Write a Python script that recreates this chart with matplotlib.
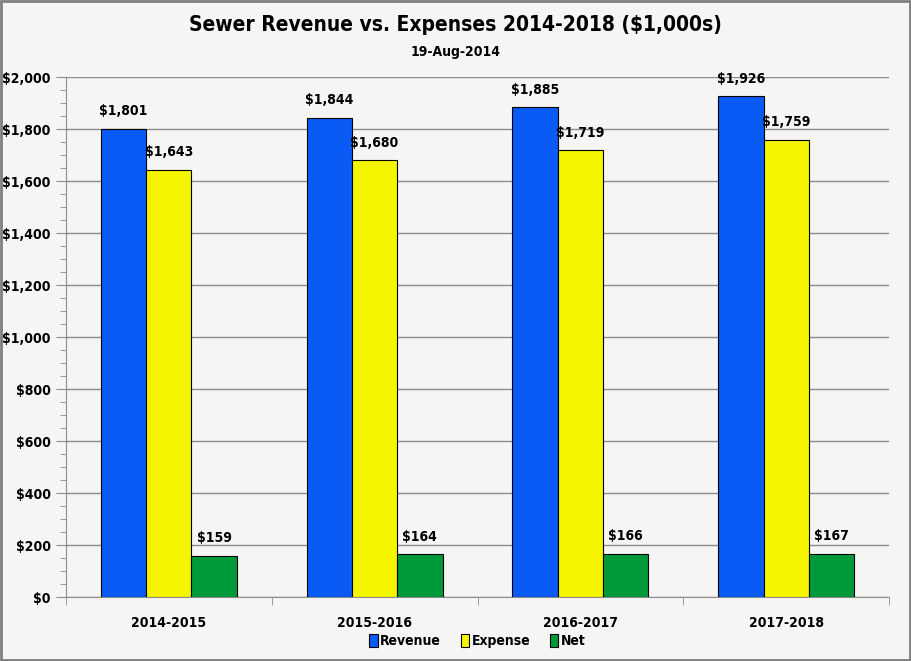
import matplotlib.pyplot as plt
import numpy as np
from matplotlib.ticker import MultipleLocator, FuncFormatter
from matplotlib.patches import Rectangle

# === DATA ===
periods = ['2014-2015', '2015-2016', '2016-2017', '2017-2018']
revenue = [1801, 1844, 1885, 1926]
expense = [1643, 1680, 1719, 1759]
net = [159, 164, 166, 167]

plt.rcParams['font.family'] = ['DejaVu Sans']
plt.rcParams['font.stretch'] = 'condensed'
plt.rcParams['font.weight'] = 'bold'

fig = plt.figure(figsize=(9.11, 6.61), dpi=100)
fig.patch.set_facecolor('#f6f5f4')
ax = fig.add_axes([0.0724, 0.0968, 0.9035, 0.7867])
ax.set_facecolor('#f6f5f4')

x = np.arange(len(periods))
w = 0.22
series = [(revenue, '#0a5af5', 'Revenue'),
          (expense, '#f5f500', 'Expense'),
          (net, '#009a3a', 'Net')]
for i, (vals, col, lab) in enumerate(series):
    pos = x + (i - 1) * w
    ax.bar(pos, vals, w, color=col, edgecolor='black', linewidth=0.8, label=lab, zorder=3)
    for p, v in zip(pos, vals):
        ax.text(p, v + 40, f'${v:,}', ha='center', va='bottom', fontsize=10, fontweight='bold')

ax.set_xlim(-0.5, len(periods) - 0.5)
ax.set_ylim(0, 2000)
ax.yaxis.set_major_locator(MultipleLocator(200))
ax.yaxis.set_minor_locator(MultipleLocator(50))
ax.yaxis.set_major_formatter(FuncFormatter(lambda v, p: f'${int(v):,}'))
ax.grid(axis='y', which='major', color='#8c8c8c', linewidth=1, zorder=0)

ax.set_xticks(x)
ax.set_xticklabels(periods)
ax.set_xticks(np.arange(len(periods) + 1) - 0.5, minor=True)
ax.tick_params(axis='x', which='major', length=0, pad=14, labelsize=10)
ax.tick_params(axis='x', which='minor', length=6, color='#8c8c8c', direction='out')
ax.tick_params(axis='y', which='major', length=7, color='#8c8c8c', labelsize=10, pad=4)
ax.tick_params(axis='y', which='minor', length=4, color='#8c8c8c')

for s in ['top', 'right']:
    ax.spines[s].set_visible(False)
for s in ['left', 'bottom']:
    ax.spines[s].set_color('#8c8c8c')

fig.text(0.5, 0.962, 'Sewer Revenue vs. Expenses 2014-2018 ($1,000s)', ha='center', va='center',
         fontsize=15, fontweight='bold')
fig.text(0.5, 0.921, '19-Aug-2014', ha='center', va='center', fontsize=10, fontweight='bold')

ax.legend(loc='center', bbox_to_anchor=(0.5, -0.085), ncol=3, frameon=False, fontsize=10,
          handlelength=0.6, handleheight=1.0, handletextpad=0.2, columnspacing=1.4)

fig.patches.append(Rectangle((0.001, 0.001), 0.998, 0.998, transform=fig.transFigure,
                             fill=False, edgecolor='#7f7f7f', linewidth=2))

fig.savefig('out.png', dpi=100, facecolor=fig.get_facecolor())
